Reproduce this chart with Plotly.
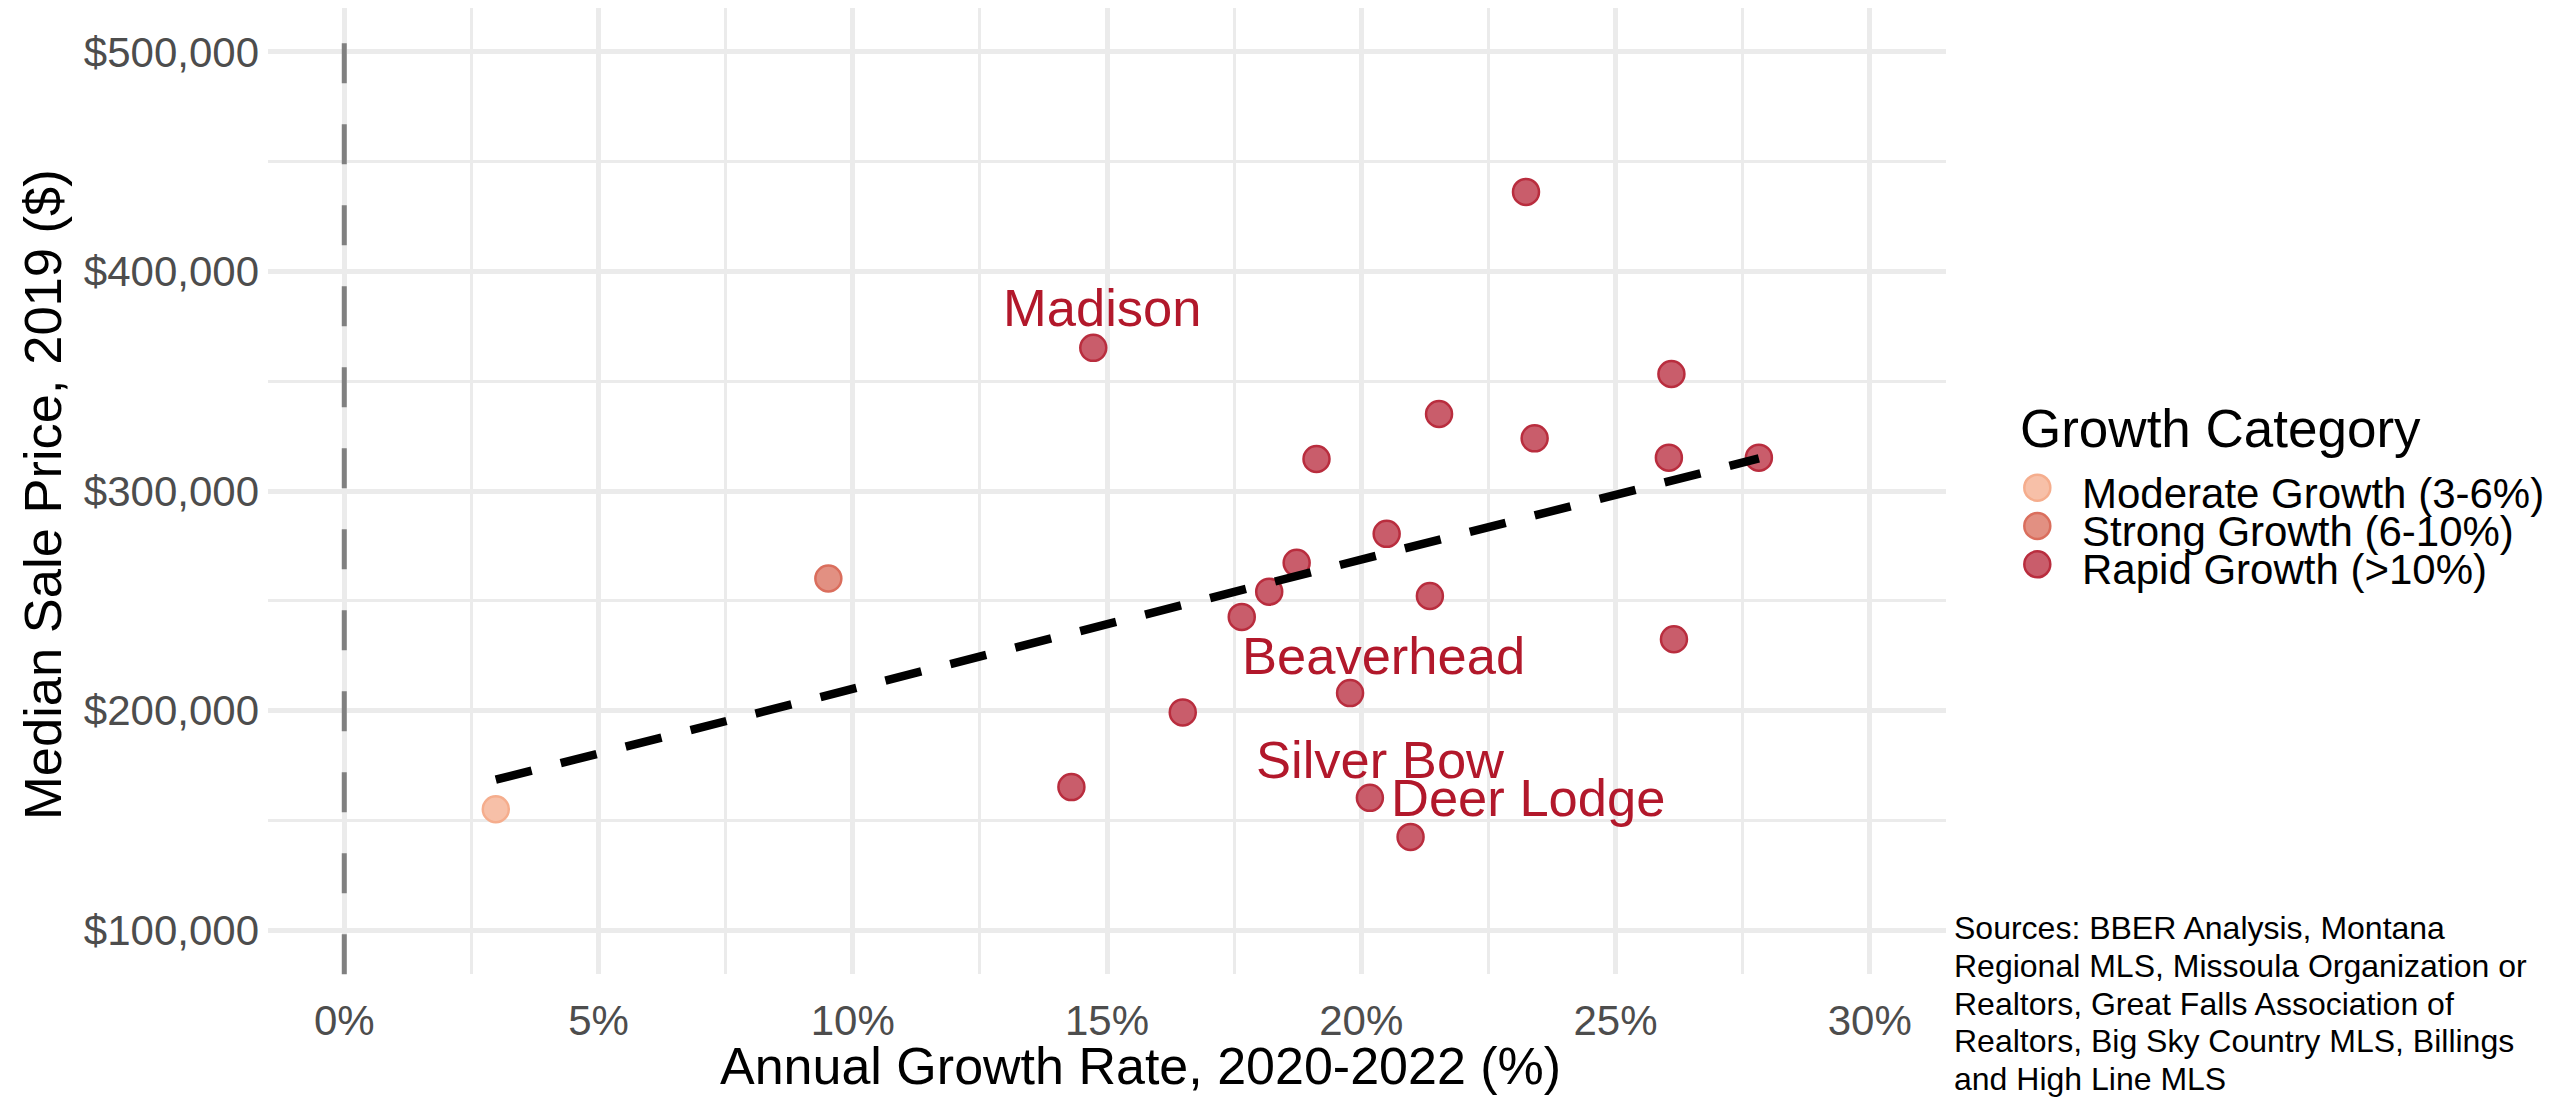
import numpy as np
import plotly.graph_objects as go

# ---------------- data ----------------
growth_rate = [2.98, 9.52, 14.73, 23.24, 26.10, 21.53, 23.41, 19.12, 26.05, 27.82,
               20.50, 18.73, 18.19, 21.35, 17.65, 26.15, 19.78, 16.49, 14.30, 20.17, 20.97]
median_price = [155100, 260200, 365200, 436200, 353300, 335100, 324000, 314600, 315200, 315200,
                280500, 267300, 254200, 252200, 242700, 232500, 208000, 199200, 165200, 160300, 142500]
growth_category = (["Moderate Growth (3-6%)", "Strong Growth (6-10%)"]
                   + ["Rapid Growth (>10%)"] * 19)
county_label = ["", "", "Madison", "", "", "", "", "", "", "",
                "", "", "", "", "", "", "Beaverhead", "", "", "Silver Bow", "Deer Lodge"]

categories = ["Moderate Growth (3-6%)", "Strong Growth (6-10%)", "Rapid Growth (>10%)"]

x_tick_values = [0, 5, 10, 15, 20, 25, 30]
x_tick_labels = ["0%", "5%", "10%", "15%", "20%", "25%", "30%"]
y_tick_values = [100000, 200000, 300000, 400000, 500000]
y_tick_labels = ["$100,000", "$200,000", "$300,000", "$400,000", "$500,000"]

source_lines = ["Sources: BBER Analysis, Montana",
                "Regional MLS, Missoula Organization or",
                "Realtors, Great Falls Association of",
                "Realtors, Big Sky Country MLS, Billings",
                "and High Line MLS"]

# ---------------- styles ----------------
W, H = 2554, 1099
FONT = "Liberation Sans, Arial, sans-serif"
fill_colors = {"Moderate Growth (3-6%)": "rgb(247,192,168)",
               "Strong Growth (6-10%)": "rgb(226,144,130)",
               "Rapid Growth (>10%)": "rgb(201,93,107)"}
edge_colors = {"Moderate Growth (3-6%)": "rgb(245,173,141)",
               "Strong Growth (6-10%)": "rgb(218,110,93)",
               "Rapid Growth (>10%)": "rgb(185,45,62)"}
label_color = "#B2182B"
label_shift = {"Madison": (9, 40), "Beaverhead": (33, 38),
               "Silver Bow": (11, 38), "Deer Lodge": (117, 39)}
GRID = "#EBEBEB"

def fx(px):
    return px / W

def fy(py):
    return 1 - py / H

x_dom = [fx(268), fx(1946)]
y_dom = [fy(974.2), fy(7.9)]

fig = go.Figure()

gx = np.array(growth_rate)
gy = np.array(median_price)
cat = np.array(growth_category)

for c in categories:
    m = cat == c
    fig.add_trace(go.Scatter(
        x=gx[m], y=gy[m], mode="markers", name=c, showlegend=False,
        marker=dict(size=26, color=fill_colors[c],
                    line=dict(color=edge_colors[c], width=2.5)),
        hoverinfo="x+y"))

# linear trend (least squares on the data)
slope, intercept = np.polyfit(gx, gy, 1)
tx = np.array([gx.min(), gx.max()])
fig.add_trace(go.Scatter(
    x=tx, y=slope * tx + intercept, mode="lines", showlegend=False,
    line=dict(color="black", width=8.5, dash="37px,30px"), hoverinfo="skip"))

# vertical reference line at 0% (drawn bottom -> top so dashes start at the bottom)
fig.add_shape(type="line", xref="x", yref="y domain", x0=0, x1=0, y0=0, y1=1,
              line=dict(color="#808080", width=5, dash="40px,41px"), layer="above")

annotations = []
for name, x, y in zip(county_label, growth_rate, median_price):
    if name:
        dx, dy = label_shift[name]
        annotations.append(dict(x=x, y=y, xref="x", yref="y", text=name, showarrow=False,
                                xshift=dx, yshift=dy,
                                font=dict(family=FONT, size=52.5, color=label_color)))

# axis titles
annotations.append(dict(x=fx(1140), y=fy(1066), xref="paper", yref="paper",
                        text="Annual Growth Rate, 2020-2022 (%)", showarrow=False,
                        xanchor="center", yanchor="middle",
                        font=dict(family=FONT, size=52, color="black")))
annotations.append(dict(x=fx(42), y=fy(495), xref="paper", yref="paper",
                        text="Median Sale Price, 2019 ($)", showarrow=False, textangle=-90,
                        xanchor="center", yanchor="middle",
                        font=dict(family=FONT, size=52.5, color="black")))

# legend (manual, drawn through an auxiliary axis pair in the right margin)
legend_y0, legend_step = 487.7, 38.3
annotations.append(dict(x=fx(2018), y=fy(428), xref="paper", yref="paper",
                        text="Growth Category", showarrow=False, xanchor="left", yanchor="middle",
                        font=dict(family=FONT, size=53, color="black")))
for i, c in enumerate(categories):
    annotations.append(dict(x=fx(2080), y=fy(legend_y0 + 5.5 + i * legend_step),
                            xref="paper", yref="paper", text=c, showarrow=False,
                            xanchor="left", yanchor="middle",
                            font=dict(family=FONT, size=42, color="black")))

fig.add_trace(go.Scatter(
    x=[2037.3] * len(categories),
    y=[legend_y0 + i * legend_step for i in range(len(categories))],
    xaxis="x2", yaxis="y2", mode="markers", showlegend=False, hoverinfo="skip",
    marker=dict(size=26, color=[fill_colors[c] for c in categories],
                line=dict(color=[edge_colors[c] for c in categories], width=2.5))))

# source caption
for i, line in enumerate(source_lines):
    annotations.append(dict(x=fx(1952), y=fy(928 + i * 37.8), xref="paper", yref="paper",
                            text=line, showarrow=False, xanchor="left", yanchor="middle",
                            font=dict(family=FONT, size=32, color="black")))

fig.update_layout(
    width=W, height=H,
    margin=dict(l=0, r=0, t=0, b=0, autoexpand=False),
    paper_bgcolor="white", plot_bgcolor="white",
    font=dict(family=FONT),
    showlegend=False,
    annotations=annotations,
    xaxis=dict(domain=x_dom, range=[-1.5, 31.5], tickmode="array",
               tickvals=x_tick_values, ticktext=x_tick_labels,
               showgrid=True, gridcolor=GRID, gridwidth=4.5, zeroline=False,
               showline=False, ticks="", ticklabelstandoff=18,
               tickfont=dict(family=FONT, size=42, color="#4D4D4D"),
               minor=dict(tick0=2.5, dtick=5, showgrid=True, gridcolor=GRID, gridwidth=2.5),
               automargin=False, anchor="y"),
    yaxis=dict(domain=y_dom, range=[80000, 520000], tickmode="array",
               tickvals=y_tick_values, ticktext=y_tick_labels,
               showgrid=True, gridcolor=GRID, gridwidth=4.5, zeroline=False,
               showline=False, ticks="", ticklabelstandoff=8,
               tickfont=dict(family=FONT, size=42, color="#4D4D4D"),
               minor=dict(tick0=150000, dtick=100000, showgrid=True, gridcolor=GRID, gridwidth=2.5),
               automargin=False, anchor="x"),
    xaxis2=dict(domain=[0.77, 1.0], range=[0.77 * W, W], visible=False,
                anchor="y2", fixedrange=True),
    yaxis2=dict(domain=[0, 1], range=[H, 0], visible=False, anchor="x2", fixedrange=True),
)

fig.write_html("out.html", config={"displayModeBar": False},
               post_script="document.body.style.margin='0';document.body.style.overflow='hidden';")
